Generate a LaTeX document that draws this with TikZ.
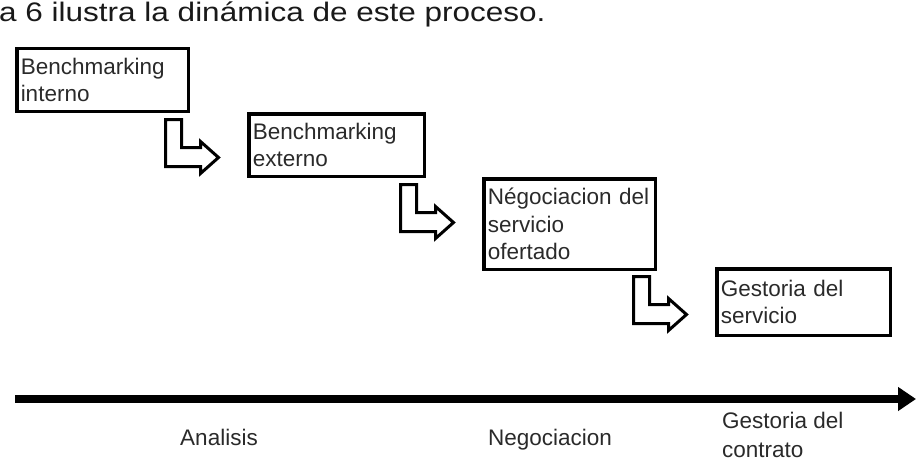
\documentclass[tikz,border=0pt]{standalone}
\usepackage{fontspec}
\setmainfont{Liberation Sans}
\usetikzlibrary{arrows.meta}
\definecolor{txt}{HTML}{2A2A2A}
\begin{document}
\begin{tikzpicture}[x=1pt,y=-1pt,
  box/.style={draw=black, line width=3.5pt, rectangle, inner xsep=4pt, inner ysep=0pt,
    align=left, text=txt, font=\fontsize{22.5}{27.5}\selectfont},
  bent/.style={draw=black, line width=3pt, line join=miter, fill=white},
  lbl/.style={text=txt, inner sep=0pt, font=\fontsize{22.5}{28.5}\selectfont},
  axis/.style={line width=8pt, -{Triangle[length=18pt,width=23pt]}}]
\useasboundingbox (0,0) rectangle (917,460);
% title
\node[anchor=base west, inner sep=0pt, text=black!90, font=\fontsize{31.5}{36}\selectfont] (title) at (-1,22) {\scalebox{1}[0.85]{a 6 ilustra la dinámica de este proceso.}};
% boxes
\node[box, minimum width=171.5pt, minimum height=62.5pt, text width=163.5pt] (b1) at (102.5,80) {Benchmarking\\interno};
\node[box, minimum width=175.5pt, minimum height=62.5pt, text width=167.5pt] (b2) at (336.5,145) {Benchmarking\\externo};
\node[box, minimum width=171.5pt, minimum height=90.5pt, text width=163.5pt] (b3) at (569.5,224) {Négociacion del\\servicio\\ofertado};
\node[box, minimum width=173.5pt, minimum height=66.5pt, text width=165.5pt] (b4) at (803.5,302) {Gestoria del\\servicio};
% bent arrows
\foreach \n/\x/\y in {1/165.5/119.5, 2/400.5/184.5, 3/633.5/276.5}{
  \coordinate (ba\n) at (\x,\y);
  \draw[bent] (ba\n) -- ++(16,0) -- ++(0,28) -- ++(19,0) -- ++(0,-6) -- ++(18,16)
     -- ++(-18,16) -- ++(0,-7) -- ++(-35,0) -- cycle;
}
% timeline
\coordinate (t0) at (15,399);
\coordinate (t1) at (916,399);
\draw[axis] (t0) -- (t1);
\node[lbl, anchor=base] (l1) at (219,445) {Analisis};
\node[lbl, anchor=base] (l2) at (550,445) {Negociacion};
\node[lbl, anchor=north west, align=left] (l3) at (722,412) {Gestoria del\\contrato};
\end{tikzpicture}
\end{document}
